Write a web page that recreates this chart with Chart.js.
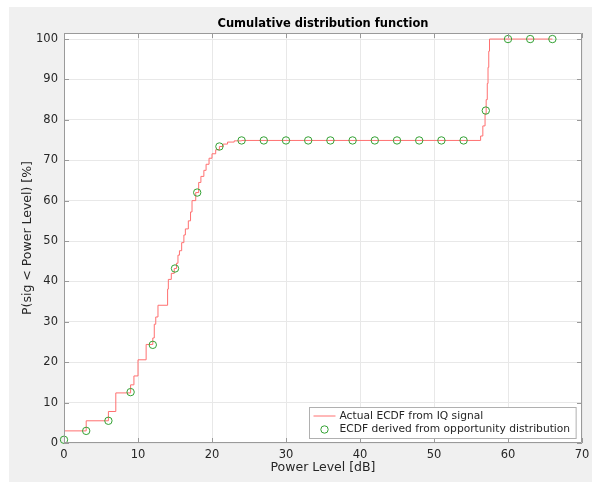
<!DOCTYPE html>
<html>
<head>
<meta charset="utf-8">
<script src="https://cdn.jsdelivr.net/npm/chart.js@4/dist/chart.umd.min.js"></script>
<style>
  html, body { margin: 0; padding: 0; background: #fff; }
  #panel { position: absolute; left: 9px; top: 7px; width: 583px; height: 475px; background: #f0f0f0; }
  #cdf { display: block; }
</style>
</head>
<body>
<div id="panel"><canvas id="cdf" width="583" height="475"></canvas></div>
<script>
// step ECDF measured from the IQ capture: jump positions [dB] and level after the jump [%]
const ecdfX = [0, 3, 6, 7, 9, 9.45, 10, 11.1, 12, 12.2, 12.4, 12.7, 14, 14.1, 14.5, 14.9, 15.2, 15.4, 15.6, 15.9,
  16.2, 16.4, 16.8, 17.1, 17.3, 17.8, 18.2, 18.5, 18.9, 19.2, 19.6, 20.0, 20.5, 21.0, 21.5, 22.1, 23.0, 24.0,
  56.3, 56.6, 56.9, 57.05, 57.2, 57.3, 57.4, 57.5, 66];
const ecdfY = [3.0, 5.5, 7.8, 12.4, 14.4, 16.6, 20.6, 24.4, 26.0, 29.4, 31.2, 34.1, 38.1, 40.5, 42.0, 43.2, 44.5, 46.5, 47.6, 49.6,
  51.5, 53.0, 55.0, 57.2, 60.0, 62.0, 64.5, 66.0, 67.5, 69.0, 70.5, 71.6, 72.6, 73.4, 74.0, 74.5, 74.8, 74.9,
  76.0, 78.5, 81.5, 85.0, 89.0, 93.0, 97.0, 100, 100];

// ECDF derived from the opportunity distribution, sampled every 3 dB
const oppX = [0, 3, 6, 9, 12, 15, 18, 21, 24, 27, 30, 33, 36, 39, 42, 45, 48, 51, 54, 57, 60, 63, 66];
const oppY = [0.8, 3.0, 5.5, 12.6, 24.3, 43.2, 62.0, 73.4, 74.9, 74.9, 74.9, 74.9, 74.9, 74.9, 74.9, 74.9, 74.9, 74.9, 74.9, 82.3, 100, 100, 100];

const xTicks = [0, 10, 20, 30, 40, 50, 60, 70];
const yTicks = [0, 10, 20, 30, 40, 50, 60, 70, 80, 90, 100];

const titleText = 'Cumulative distribution function';
const xLabel = 'Power Level [dB]';
const yLabel = 'P(sig < Power Level) [%]';
const lineLabel = 'Actual ECDF from IQ signal';
const oppLabel = 'ECDF derived from opportunity distribution';

const FONT = 'DejaVu Sans';
const TEXT = '#262626';
const AXIS = '#9a9a9a';
const GRID = '#e8e8e8';
const RED = 'rgb(255,112,112)';
const GREEN = 'rgb(52,162,52)';
const MARKER_R = 3.7;

// white axes background
const axesBackground = {
  id: 'axesBackground',
  beforeDraw(chart) {
    const { ctx, chartArea: a } = chart;
    ctx.save();
    ctx.fillStyle = '#fff';
    ctx.fillRect(a.left, a.top, a.right - a.left, a.bottom - a.top);
    ctx.restore();
  }
};

// box on all four sides, inward ticks, title and legend inside the axes
const matlabAxes = {
  id: 'matlabAxes',
  afterDatasetsDraw(chart) {
    const { ctx, chartArea: a, scales } = chart;
    const len = 5;
    ctx.save();
    ctx.strokeStyle = AXIS;
    ctx.lineWidth = 1;
    ctx.beginPath();
    ctx.rect(a.left + 0.5, a.top + 0.5, a.right - a.left - 1, a.bottom - a.top - 1);
    xTicks.forEach(v => {
      const px = Math.round(scales.x.getPixelForValue(v)) + 0.5;
      ctx.moveTo(px, a.bottom); ctx.lineTo(px, a.bottom - len);
      ctx.moveTo(px, a.top); ctx.lineTo(px, a.top + len);
    });
    yTicks.forEach(v => {
      const py = Math.round(scales.y.getPixelForValue(v)) + 0.5;
      ctx.moveTo(a.left, py); ctx.lineTo(a.left + len, py);
      ctx.moveTo(a.right, py); ctx.lineTo(a.right - len, py);
    });
    ctx.stroke();

    // title
    ctx.fillStyle = '#000';
    ctx.font = 'bold 11.5px "' + FONT + '"';
    ctx.textAlign = 'center';
    ctx.textBaseline = 'middle';
    ctx.fillText(titleText, (a.left + a.right) / 2, a.top - 9);

    // legend, lower right corner
    ctx.font = '10.7px "' + FONT + '"';
    const textW = Math.max(ctx.measureText(lineLabel).width, ctx.measureText(oppLabel).width);
    const boxW = 30 + textW + 6;
    const boxH = 31;
    const bx = Math.round(a.right - 6 - boxW) + 0.5;
    const by = Math.round(a.bottom - 5 - boxH) + 0.5;
    ctx.fillStyle = '#fff';
    ctx.fillRect(bx, by, boxW, boxH);
    ctx.strokeStyle = '#b0b0b0';
    ctx.strokeRect(bx, by, boxW, boxH);

    const y1 = by + 8.5, y2 = by + 22;
    ctx.strokeStyle = RED;
    ctx.beginPath();
    ctx.moveTo(bx + 4, y1); ctx.lineTo(bx + 26, y1);
    ctx.stroke();
    ctx.strokeStyle = GREEN;
    ctx.beginPath();
    ctx.arc(bx + 15, y2, MARKER_R, 0, Math.PI * 2);
    ctx.stroke();

    ctx.textAlign = 'left';
    ctx.fillStyle = TEXT;
    ctx.fillText(lineLabel, bx + 30, y1);
    ctx.fillText(oppLabel, bx + 30, y2);
    ctx.restore();
  }
};

new Chart(document.getElementById('cdf'), {
  type: 'scatter',
  data: {
    datasets: [
      {
        label: oppLabel,
        data: oppX.map((x, i) => ({ x, y: oppY[i] })),
        showLine: false,
        pointStyle: 'circle',
        pointRadius: MARKER_R,
        pointBorderWidth: 1,
        borderColor: GREEN,
        pointBorderColor: GREEN,
        pointBackgroundColor: 'rgba(0,0,0,0)',
        clip: false,
        order: 0
      },
      {
        label: lineLabel,
        data: ecdfX.map((x, i) => ({ x, y: ecdfY[i] })),
        showLine: true,
        stepped: 'before',
        borderColor: RED,
        borderWidth: 1,
        pointRadius: 0,
        fill: false,
        order: 1
      }
    ]
  },
  options: {
    responsive: false,
    animation: false,
    layout: { padding: { left: 0, top: 26, right: 10, bottom: 0 } },
    plugins: {
      legend: { display: false },
      title: { display: false },
      tooltip: { enabled: false }
    },
    scales: {
      x: {
        type: 'linear',
        min: 0,
        max: 70,
        afterFit: s => { s.height = 39; s.paddingLeft = 0; s.paddingRight = 0; },
        afterBuildTicks: s => { s.ticks = xTicks.map(v => ({ value: v })); },
        grid: { color: GRID, drawTicks: false },
        border: { display: false },
        ticks: { padding: 5, color: TEXT, font: { family: FONT, size: 11.5 }, maxRotation: 0 },
        title: { display: true, text: xLabel, color: TEXT, font: { family: FONT, size: 12.5 }, padding: { top: 0, bottom: 7 } }
      },
      y: {
        type: 'linear',
        min: 0,
        max: 101.5,
        afterFit: s => { s.width = 55; s.paddingTop = 0; s.paddingBottom = 0; },
        afterBuildTicks: s => { s.ticks = yTicks.map(v => ({ value: v })); },
        grid: { color: GRID, drawTicks: false },
        border: { display: false },
        ticks: { padding: 6, color: TEXT, font: { family: FONT, size: 11.5 } },
        title: { display: true, text: yLabel, color: TEXT, font: { family: FONT, size: 12.5 }, padding: { top: 11, bottom: 0 } }
      }
    }
  },
  plugins: [axesBackground, matlabAxes]
});
</script>
</body>
</html>
